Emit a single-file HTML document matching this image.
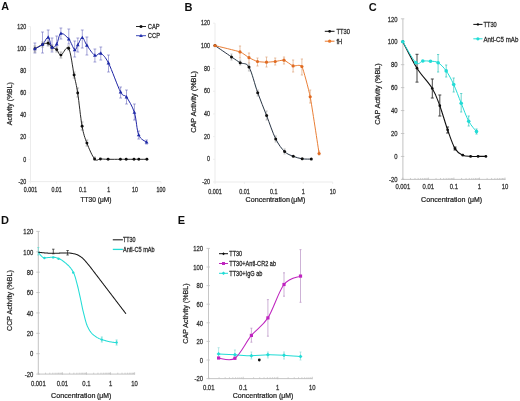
<!DOCTYPE html>
<html><head><meta charset="utf-8"><style>
html,body{margin:0;padding:0;background:#fff;width:520px;height:401px;overflow:hidden}
text{font-family:"Liberation Sans", sans-serif}
</style></head><body>
<svg width="520" height="401" viewBox="0 0 520 401" style="display:block">
<defs><filter id="bl" x="-5%" y="-5%" width="110%" height="110%"><feGaussianBlur stdDeviation="0.45"/></filter></defs>
<rect width="520" height="401" fill="#fff"/>
<g font-family='"Liberation Sans", sans-serif' filter='url(#bl)'>
<text x="5.1" y="6.3" font-size="10.8" fill="#111" text-anchor="middle" font-weight="bold" dominant-baseline="central">A</text>
<path d="M30.5,26.5 V181.62 H161" fill="none" stroke="#ececec" stroke-width="1.0"/>
<path d="M28.5,26.5 H30.5" stroke="#ececec" stroke-width="0.8"/>
<text x="26.2" y="26.5" font-size="5.3" fill="#333" text-anchor="end" font-weight="normal" dominant-baseline="central" stroke="#333" stroke-width="0.22" transform="translate(26.2 26.5) scale(1 1.22) translate(-26.2 -26.5)">120</text>
<path d="M28.5,48.660000000000004 H30.5" stroke="#ececec" stroke-width="0.8"/>
<text x="26.2" y="48.660000000000004" font-size="5.3" fill="#333" text-anchor="end" font-weight="normal" dominant-baseline="central" stroke="#333" stroke-width="0.22" transform="translate(26.2 48.660000000000004) scale(1 1.22) translate(-26.2 -48.660000000000004)">100</text>
<path d="M28.5,70.82000000000001 H30.5" stroke="#ececec" stroke-width="0.8"/>
<text x="26.2" y="70.82000000000001" font-size="5.3" fill="#333" text-anchor="end" font-weight="normal" dominant-baseline="central" stroke="#333" stroke-width="0.22" transform="translate(26.2 70.82000000000001) scale(1 1.22) translate(-26.2 -70.82000000000001)">80</text>
<path d="M28.5,92.98 H30.5" stroke="#ececec" stroke-width="0.8"/>
<text x="26.2" y="92.98" font-size="5.3" fill="#333" text-anchor="end" font-weight="normal" dominant-baseline="central" stroke="#333" stroke-width="0.22" transform="translate(26.2 92.98) scale(1 1.22) translate(-26.2 -92.98)">60</text>
<path d="M28.5,115.14000000000001 H30.5" stroke="#ececec" stroke-width="0.8"/>
<text x="26.2" y="115.14000000000001" font-size="5.3" fill="#333" text-anchor="end" font-weight="normal" dominant-baseline="central" stroke="#333" stroke-width="0.22" transform="translate(26.2 115.14000000000001) scale(1 1.22) translate(-26.2 -115.14000000000001)">40</text>
<path d="M28.5,137.3 H30.5" stroke="#ececec" stroke-width="0.8"/>
<text x="26.2" y="137.3" font-size="5.3" fill="#333" text-anchor="end" font-weight="normal" dominant-baseline="central" stroke="#333" stroke-width="0.22" transform="translate(26.2 137.3) scale(1 1.22) translate(-26.2 -137.3)">20</text>
<path d="M28.5,159.46 H30.5" stroke="#ececec" stroke-width="0.8"/>
<text x="26.2" y="159.46" font-size="5.3" fill="#333" text-anchor="end" font-weight="normal" dominant-baseline="central" stroke="#333" stroke-width="0.22" transform="translate(26.2 159.46) scale(1 1.22) translate(-26.2 -159.46)">0</text>
<path d="M28.5,181.62 H30.5" stroke="#ececec" stroke-width="0.8"/>
<text x="26.2" y="181.62" font-size="5.3" fill="#333" text-anchor="end" font-weight="normal" dominant-baseline="central" stroke="#333" stroke-width="0.22" transform="translate(26.2 181.62) scale(1 1.22) translate(-26.2 -181.62)">-20</text>
<path d="M30.5,181.62 V183.62" stroke="#ececec" stroke-width="0.8"/>
<text x="30.5" y="189.6" font-size="5.3" fill="#333" text-anchor="middle" font-weight="normal" dominant-baseline="central" stroke="#333" stroke-width="0.22" transform="translate(30.5 189.6) scale(1 1.22) translate(-30.5 -189.6)">0.001</text>
<path d="M56.6,181.62 V183.62" stroke="#ececec" stroke-width="0.8"/>
<text x="56.6" y="189.6" font-size="5.3" fill="#333" text-anchor="middle" font-weight="normal" dominant-baseline="central" stroke="#333" stroke-width="0.22" transform="translate(56.6 189.6) scale(1 1.22) translate(-56.6 -189.6)">0.01</text>
<path d="M82.7,181.62 V183.62" stroke="#ececec" stroke-width="0.8"/>
<text x="82.7" y="189.6" font-size="5.3" fill="#333" text-anchor="middle" font-weight="normal" dominant-baseline="central" stroke="#333" stroke-width="0.22" transform="translate(82.7 189.6) scale(1 1.22) translate(-82.7 -189.6)">0.1</text>
<path d="M108.80000000000001,181.62 V183.62" stroke="#ececec" stroke-width="0.8"/>
<text x="108.80000000000001" y="189.6" font-size="5.3" fill="#333" text-anchor="middle" font-weight="normal" dominant-baseline="central" stroke="#333" stroke-width="0.22" transform="translate(108.80000000000001 189.6) scale(1 1.22) translate(-108.80000000000001 -189.6)">1</text>
<path d="M134.9,181.62 V183.62" stroke="#ececec" stroke-width="0.8"/>
<text x="134.9" y="189.6" font-size="5.3" fill="#333" text-anchor="middle" font-weight="normal" dominant-baseline="central" stroke="#333" stroke-width="0.22" transform="translate(134.9 189.6) scale(1 1.22) translate(-134.9 -189.6)">10</text>
<path d="M161.0,181.62 V183.62" stroke="#ececec" stroke-width="0.8"/>
<text x="161.0" y="189.6" font-size="5.3" fill="#333" text-anchor="middle" font-weight="normal" dominant-baseline="central" stroke="#333" stroke-width="0.22" transform="translate(161.0 189.6) scale(1 1.22) translate(-161.0 -189.6)">100</text>
<text x="96" y="199.6" font-size="6.6" fill="#222" text-anchor="middle" font-weight="normal" dominant-baseline="central" stroke="#222" stroke-width="0.22">TT30 (μM)</text>
<text x="9.7" y="103.65" font-size="6.92" fill="#222" text-anchor="middle" font-weight="normal" dominant-baseline="central" stroke="#222" stroke-width="0.22" transform="rotate(-90 9.7 103.65)">Activity (%BL)</text>
<path d="M34.9,43 V53 M33.5,43 H36.3 M33.5,53 H36.3" stroke="#5c5cb8" stroke-width="0.55" fill="none"/>
<path d="M42.5,32 V53 M41.1,32 H43.9 M41.1,53 H43.9" stroke="#5c5cb8" stroke-width="0.55" fill="none"/>
<path d="M48.2,30 V45 M46.800000000000004,30 H49.6 M46.800000000000004,45 H49.6" stroke="#5c5cb8" stroke-width="0.55" fill="none"/>
<path d="M52.0,38 V52 M50.6,38 H53.4 M50.6,52 H53.4" stroke="#5c5cb8" stroke-width="0.55" fill="none"/>
<path d="M56.7,36 V50 M55.300000000000004,36 H58.1 M55.300000000000004,50 H58.1" stroke="#5c5cb8" stroke-width="0.55" fill="none"/>
<path d="M60.9,28 V39 M59.5,28 H62.3 M59.5,39 H62.3" stroke="#5c5cb8" stroke-width="0.55" fill="none"/>
<path d="M68.8,29 V44 M67.39999999999999,29 H70.2 M67.39999999999999,44 H70.2" stroke="#5c5cb8" stroke-width="0.55" fill="none"/>
<path d="M74.7,41 V57 M73.3,41 H76.10000000000001 M73.3,57 H76.10000000000001" stroke="#5c5cb8" stroke-width="0.55" fill="none"/>
<path d="M77.8,38 V52 M76.39999999999999,38 H79.2 M76.39999999999999,52 H79.2" stroke="#5c5cb8" stroke-width="0.55" fill="none"/>
<path d="M82.3,30 V48 M80.89999999999999,30 H83.7 M80.89999999999999,48 H83.7" stroke="#5c5cb8" stroke-width="0.55" fill="none"/>
<path d="M86.9,37 V55 M85.5,37 H88.30000000000001 M85.5,55 H88.30000000000001" stroke="#5c5cb8" stroke-width="0.55" fill="none"/>
<path d="M94.9,49 V62 M93.5,49 H96.30000000000001 M93.5,62 H96.30000000000001" stroke="#5c5cb8" stroke-width="0.55" fill="none"/>
<path d="M100.8,47 V60 M99.39999999999999,47 H102.2 M99.39999999999999,60 H102.2" stroke="#5c5cb8" stroke-width="0.55" fill="none"/>
<path d="M108.5,55 V72 M107.1,55 H109.9 M107.1,72 H109.9" stroke="#5c5cb8" stroke-width="0.55" fill="none"/>
<path d="M120.6,87 V98 M119.19999999999999,87 H122.0 M119.19999999999999,98 H122.0" stroke="#5c5cb8" stroke-width="0.55" fill="none"/>
<path d="M126.5,90 V104 M125.1,90 H127.9 M125.1,104 H127.9" stroke="#5c5cb8" stroke-width="0.55" fill="none"/>
<path d="M134.4,104 V120 M133.0,104 H135.8 M133.0,120 H135.8" stroke="#5c5cb8" stroke-width="0.55" fill="none"/>
<path d="M138.7,131 V139 M137.29999999999998,131 H140.1 M137.29999999999998,139 H140.1" stroke="#5c5cb8" stroke-width="0.55" fill="none"/>
<path d="M146.6,140 V144 M145.2,140 H148.0 M145.2,144 H148.0" stroke="#5c5cb8" stroke-width="0.55" fill="none"/>
<path d="M34.9,46 V52 M33.5,46 H36.3 M33.5,52 H36.3" stroke="#888" stroke-width="0.6" fill="none"/>
<path d="M42.5,42 V47 M41.1,42 H43.9 M41.1,47 H43.9" stroke="#888" stroke-width="0.6" fill="none"/>
<path d="M48.2,41 V46 M46.800000000000004,41 H49.6 M46.800000000000004,46 H49.6" stroke="#888" stroke-width="0.6" fill="none"/>
<path d="M52.0,45 V50 M50.6,45 H53.4 M50.6,50 H53.4" stroke="#888" stroke-width="0.6" fill="none"/>
<path d="M56.7,47 V52 M55.300000000000004,47 H58.1 M55.300000000000004,52 H58.1" stroke="#888" stroke-width="0.6" fill="none"/>
<path d="M60.9,52 V58 M59.5,52 H62.3 M59.5,58 H62.3" stroke="#888" stroke-width="0.6" fill="none"/>
<path d="M68.6,46 V50 M67.19999999999999,46 H70.0 M67.19999999999999,50 H70.0" stroke="#888" stroke-width="0.6" fill="none"/>
<path d="M74.1,72 V78 M72.69999999999999,72 H75.5 M72.69999999999999,78 H75.5" stroke="#888" stroke-width="0.6" fill="none"/>
<path d="M77.7,88 V97 M76.3,88 H79.10000000000001 M76.3,97 H79.10000000000001" stroke="#888" stroke-width="0.6" fill="none"/>
<path d="M82.1,122 V130 M80.69999999999999,122 H83.5 M80.69999999999999,130 H83.5" stroke="#888" stroke-width="0.6" fill="none"/>
<path d="M86.9,140 V146 M85.5,140 H88.30000000000001 M85.5,146 H88.30000000000001" stroke="#888" stroke-width="0.6" fill="none"/>
<path d="M94.6,157 V160 M93.19999999999999,157 H96.0 M93.19999999999999,160 H96.0" stroke="#888" stroke-width="0.6" fill="none"/>
<path d="M34.90,48.80 C36.17,48.08 40.28,45.42 42.50,44.50 C44.72,43.58 46.62,42.83 48.20,43.30 C49.78,43.77 50.58,46.25 52.00,47.30 C53.42,48.35 55.22,48.30 56.70,49.60 C58.18,50.90 58.92,55.32 60.90,55.10 C62.88,54.88 66.40,44.98 68.60,48.30 C70.80,51.62 72.58,67.55 74.10,75.00 C75.62,82.45 76.37,84.45 77.70,93.00 C79.03,101.55 80.57,117.95 82.10,126.30 C83.63,134.65 84.82,137.65 86.90,143.10 C88.98,148.55 92.35,156.35 94.60,159.00 C96.85,161.65 98.15,158.95 100.40,159.00 C102.65,159.05 104.77,159.25 108.10,159.30 C111.43,159.35 117.38,159.30 120.40,159.30 C123.42,159.30 123.93,159.30 126.20,159.30 C128.47,159.30 131.90,159.30 134.00,159.30 C136.10,159.30 136.65,159.30 138.80,159.30 C140.95,159.30 145.55,159.30 146.90,159.30" fill="none" stroke="#111" stroke-width="0.9"/>
<circle cx="34.9" cy="48.8" r="1.45" fill="#111"/>
<circle cx="42.5" cy="44.5" r="1.45" fill="#111"/>
<circle cx="48.2" cy="43.3" r="1.45" fill="#111"/>
<circle cx="52.0" cy="47.3" r="1.45" fill="#111"/>
<circle cx="56.7" cy="49.6" r="1.45" fill="#111"/>
<circle cx="60.9" cy="55.1" r="1.45" fill="#111"/>
<circle cx="68.6" cy="48.3" r="1.45" fill="#111"/>
<circle cx="74.1" cy="75" r="1.45" fill="#111"/>
<circle cx="77.7" cy="93" r="1.45" fill="#111"/>
<circle cx="82.1" cy="126.3" r="1.45" fill="#111"/>
<circle cx="86.9" cy="143.1" r="1.45" fill="#111"/>
<circle cx="94.6" cy="159.0" r="1.45" fill="#111"/>
<circle cx="100.4" cy="159.0" r="1.45" fill="#111"/>
<circle cx="108.1" cy="159.3" r="1.45" fill="#111"/>
<circle cx="120.4" cy="159.3" r="1.45" fill="#111"/>
<circle cx="126.2" cy="159.3" r="1.45" fill="#111"/>
<circle cx="134.0" cy="159.3" r="1.45" fill="#111"/>
<circle cx="138.8" cy="159.3" r="1.45" fill="#111"/>
<circle cx="146.9" cy="159.3" r="1.45" fill="#111"/>
<path d="M34.90,48.80 C36.17,48.08 40.28,46.42 42.50,44.50 C44.72,42.58 46.62,36.80 48.20,37.30 C49.78,37.80 50.58,46.37 52.00,47.50 C53.42,48.63 55.22,46.43 56.70,44.10 C58.18,41.77 58.88,34.33 60.90,33.50 C62.92,32.67 66.50,36.38 68.80,39.10 C71.10,41.82 73.20,48.82 74.70,49.80 C76.20,50.78 76.53,47.02 77.80,45.00 C79.07,42.98 80.78,37.63 82.30,37.70 C83.82,37.77 84.80,42.45 86.90,45.40 C89.00,48.35 92.58,54.07 94.90,55.40 C97.22,56.73 98.53,52.12 100.80,53.40 C103.07,54.68 105.20,56.65 108.50,63.10 C111.80,69.55 117.60,86.43 120.60,92.10 C123.60,97.77 124.20,93.70 126.50,97.10 C128.80,100.50 132.37,106.18 134.40,112.50 C136.43,118.82 136.67,130.05 138.70,135.00 C140.73,139.95 145.28,141.00 146.60,142.20" fill="none" stroke="#1e24a4" stroke-width="1.0"/>
<path d="M34.9,46.76 L36.769999999999996,50.16 L33.03,50.16 Z" fill="#1f2aa8"/>
<path d="M42.5,42.46 L44.37,45.86 L40.63,45.86 Z" fill="#1f2aa8"/>
<path d="M48.2,35.26 L50.07,38.66 L46.330000000000005,38.66 Z" fill="#1f2aa8"/>
<path d="M52.0,45.46 L53.87,48.86 L50.13,48.86 Z" fill="#1f2aa8"/>
<path d="M56.7,42.06 L58.57,45.46 L54.830000000000005,45.46 Z" fill="#1f2aa8"/>
<path d="M60.9,31.46 L62.769999999999996,34.86 L59.03,34.86 Z" fill="#1f2aa8"/>
<path d="M68.8,37.06 L70.67,40.46 L66.92999999999999,40.46 Z" fill="#1f2aa8"/>
<path d="M74.7,47.76 L76.57000000000001,51.16 L72.83,51.16 Z" fill="#1f2aa8"/>
<path d="M77.8,42.96 L79.67,46.36 L75.92999999999999,46.36 Z" fill="#1f2aa8"/>
<path d="M82.3,35.660000000000004 L84.17,39.06 L80.42999999999999,39.06 Z" fill="#1f2aa8"/>
<path d="M86.9,43.36 L88.77000000000001,46.76 L85.03,46.76 Z" fill="#1f2aa8"/>
<path d="M94.9,53.36 L96.77000000000001,56.76 L93.03,56.76 Z" fill="#1f2aa8"/>
<path d="M100.8,51.36 L102.67,54.76 L98.92999999999999,54.76 Z" fill="#1f2aa8"/>
<path d="M108.5,61.06 L110.37,64.46000000000001 L106.63,64.46000000000001 Z" fill="#1f2aa8"/>
<path d="M120.6,90.05999999999999 L122.47,93.46 L118.72999999999999,93.46 Z" fill="#1f2aa8"/>
<path d="M126.5,95.05999999999999 L128.37,98.46 L124.63,98.46 Z" fill="#1f2aa8"/>
<path d="M134.4,110.46 L136.27,113.86 L132.53,113.86 Z" fill="#1f2aa8"/>
<path d="M138.7,132.96 L140.57,136.36 L136.82999999999998,136.36 Z" fill="#1f2aa8"/>
<path d="M146.6,140.16 L148.47,143.56 L144.73,143.56 Z" fill="#1f2aa8"/>
<path d="M136,26.5 H146" stroke="#111" stroke-width="0.9"/>
<circle cx="141.0" cy="26.5" r="1.5" fill="#111"/>
<text x="147.8" y="26.5" font-size="5.8" fill="#2a2a2a" text-anchor="start" font-weight="normal" dominant-baseline="central" stroke="#2a2a2a" stroke-width="0.22" transform="translate(147.8 26.5) scale(1 1.2) translate(-147.8 -26.5)">CAP</text>
<path d="M136,35.7 H146" stroke="#2a35b0" stroke-width="0.9"/>
<path d="M141.0,33.660000000000004 L142.87,37.06 L139.13,37.06 Z" fill="#2a35b0"/>
<text x="147.8" y="35.7" font-size="5.8" fill="#2a2a2a" text-anchor="start" font-weight="normal" dominant-baseline="central" stroke="#2a2a2a" stroke-width="0.22" transform="translate(147.8 35.7) scale(1 1.2) translate(-147.8 -35.7)">CCP</text>
<text x="188.5" y="7" font-size="11" fill="#111" text-anchor="middle" font-weight="bold" dominant-baseline="central">B</text>
<path d="M215,23.2 V182.002 H332.7" fill="none" stroke="#ebebeb" stroke-width="1.0"/>
<path d="M213,23.2 H215" stroke="#ebebeb" stroke-width="0.8"/>
<text x="210" y="23.2" font-size="5.4" fill="#333" text-anchor="end" font-weight="normal" dominant-baseline="central" stroke="#333" stroke-width="0.22" transform="translate(210 23.2) scale(1 1.22) translate(-210 -23.2)">120</text>
<path d="M213,45.885999999999996 H215" stroke="#ebebeb" stroke-width="0.8"/>
<text x="210" y="45.885999999999996" font-size="5.4" fill="#333" text-anchor="end" font-weight="normal" dominant-baseline="central" stroke="#333" stroke-width="0.22" transform="translate(210 45.885999999999996) scale(1 1.22) translate(-210 -45.885999999999996)">100</text>
<path d="M213,68.572 H215" stroke="#ebebeb" stroke-width="0.8"/>
<text x="210" y="68.572" font-size="5.4" fill="#333" text-anchor="end" font-weight="normal" dominant-baseline="central" stroke="#333" stroke-width="0.22" transform="translate(210 68.572) scale(1 1.22) translate(-210 -68.572)">80</text>
<path d="M213,91.25800000000001 H215" stroke="#ebebeb" stroke-width="0.8"/>
<text x="210" y="91.25800000000001" font-size="5.4" fill="#333" text-anchor="end" font-weight="normal" dominant-baseline="central" stroke="#333" stroke-width="0.22" transform="translate(210 91.25800000000001) scale(1 1.22) translate(-210 -91.25800000000001)">60</text>
<path d="M213,113.944 H215" stroke="#ebebeb" stroke-width="0.8"/>
<text x="210" y="113.944" font-size="5.4" fill="#333" text-anchor="end" font-weight="normal" dominant-baseline="central" stroke="#333" stroke-width="0.22" transform="translate(210 113.944) scale(1 1.22) translate(-210 -113.944)">40</text>
<path d="M213,136.63 H215" stroke="#ebebeb" stroke-width="0.8"/>
<text x="210" y="136.63" font-size="5.4" fill="#333" text-anchor="end" font-weight="normal" dominant-baseline="central" stroke="#333" stroke-width="0.22" transform="translate(210 136.63) scale(1 1.22) translate(-210 -136.63)">20</text>
<path d="M213,159.316 H215" stroke="#ebebeb" stroke-width="0.8"/>
<text x="210" y="159.316" font-size="5.4" fill="#333" text-anchor="end" font-weight="normal" dominant-baseline="central" stroke="#333" stroke-width="0.22" transform="translate(210 159.316) scale(1 1.22) translate(-210 -159.316)">0</text>
<path d="M213,182.002 H215" stroke="#ebebeb" stroke-width="0.8"/>
<text x="210" y="182.002" font-size="5.4" fill="#333" text-anchor="end" font-weight="normal" dominant-baseline="central" stroke="#333" stroke-width="0.22" transform="translate(210 182.002) scale(1 1.22) translate(-210 -182.002)">-20</text>
<path d="M215.0,182.002 V184.002" stroke="#ebebeb" stroke-width="0.8"/>
<text x="215.0" y="191.4" font-size="5.4" fill="#333" text-anchor="middle" font-weight="normal" dominant-baseline="central" stroke="#333" stroke-width="0.22" transform="translate(215.0 191.4) scale(1 1.22) translate(-215.0 -191.4)">0.001</text>
<path d="M244.42000000000002,182.002 V184.002" stroke="#ebebeb" stroke-width="0.8"/>
<text x="244.42000000000002" y="191.4" font-size="5.4" fill="#333" text-anchor="middle" font-weight="normal" dominant-baseline="central" stroke="#333" stroke-width="0.22" transform="translate(244.42000000000002 191.4) scale(1 1.22) translate(-244.42000000000002 -191.4)">0.01</text>
<path d="M273.84000000000003,182.002 V184.002" stroke="#ebebeb" stroke-width="0.8"/>
<text x="273.84000000000003" y="191.4" font-size="5.4" fill="#333" text-anchor="middle" font-weight="normal" dominant-baseline="central" stroke="#333" stroke-width="0.22" transform="translate(273.84000000000003 191.4) scale(1 1.22) translate(-273.84000000000003 -191.4)">0.1</text>
<path d="M303.26,182.002 V184.002" stroke="#ebebeb" stroke-width="0.8"/>
<text x="303.26" y="191.4" font-size="5.4" fill="#333" text-anchor="middle" font-weight="normal" dominant-baseline="central" stroke="#333" stroke-width="0.22" transform="translate(303.26 191.4) scale(1 1.22) translate(-303.26 -191.4)">1</text>
<path d="M332.68,182.002 V184.002" stroke="#ebebeb" stroke-width="0.8"/>
<text x="332.68" y="191.4" font-size="5.4" fill="#333" text-anchor="middle" font-weight="normal" dominant-baseline="central" stroke="#333" stroke-width="0.22" transform="translate(332.68 191.4) scale(1 1.22) translate(-332.68 -191.4)">10</text>
<text x="245.6" y="199.6" font-size="7.12" fill="#222" text-anchor="start" font-weight="normal" dominant-baseline="central" stroke="#222" stroke-width="0.22">Concentration</text>
<text x="305.3" y="199.6" font-size="6.9" fill="#222" text-anchor="end" font-weight="normal" dominant-baseline="central" stroke="#222" stroke-width="0.22">(μM)</text>
<text x="193.75" y="101.9" font-size="7.28" fill="#222" text-anchor="middle" font-weight="normal" dominant-baseline="central" stroke="#222" stroke-width="0.22" transform="rotate(-90 193.75 101.9)">CAP Activity (%BL)</text>
<path d="M240,46 V58 M238.9,46 H241.1 M238.9,58 H241.1" stroke="#e0a880" stroke-width="0.7" fill="none"/>
<path d="M249,53 V63 M247.9,53 H250.1 M247.9,63 H250.1" stroke="#e0a880" stroke-width="0.7" fill="none"/>
<path d="M257.5,58 V66 M256.4,58 H258.6 M256.4,66 H258.6" stroke="#e0a880" stroke-width="0.7" fill="none"/>
<path d="M266.5,57 V67 M265.4,57 H267.6 M265.4,67 H267.6" stroke="#e0a880" stroke-width="0.7" fill="none"/>
<path d="M275.2,58 V65 M274.09999999999997,58 H276.3 M274.09999999999997,65 H276.3" stroke="#e0a880" stroke-width="0.7" fill="none"/>
<path d="M284,57 V64 M282.9,57 H285.1 M282.9,64 H285.1" stroke="#e0a880" stroke-width="0.7" fill="none"/>
<path d="M293.1,60 V72 M292.0,60 H294.20000000000005 M292.0,72 H294.20000000000005" stroke="#e0a880" stroke-width="0.7" fill="none"/>
<path d="M301.9,59 V75 M300.79999999999995,59 H303.0 M300.79999999999995,75 H303.0" stroke="#e0a880" stroke-width="0.7" fill="none"/>
<path d="M310.2,90 V103 M309.09999999999997,90 H311.3 M309.09999999999997,103 H311.3" stroke="#e0a880" stroke-width="0.7" fill="none"/>
<path d="M319.1,151 V155 M318.0,151 H320.20000000000005 M318.0,155 H320.20000000000005" stroke="#e0a880" stroke-width="0.7" fill="none"/>
<path d="M231.5,54 V60 M230.4,54 H232.6 M230.4,60 H232.6" stroke="#a0a0a0" stroke-width="0.6" fill="none"/>
<path d="M240.2,60 V65 M239.1,60 H241.29999999999998 M239.1,65 H241.29999999999998" stroke="#a0a0a0" stroke-width="0.6" fill="none"/>
<path d="M249,64 V71 M247.9,64 H250.1 M247.9,71 H250.1" stroke="#a0a0a0" stroke-width="0.6" fill="none"/>
<path d="M257.7,90 V96 M256.59999999999997,90 H258.8 M256.59999999999997,96 H258.8" stroke="#a0a0a0" stroke-width="0.6" fill="none"/>
<path d="M266.6,111 V120 M265.5,111 H267.70000000000005 M265.5,120 H267.70000000000005" stroke="#a0a0a0" stroke-width="0.6" fill="none"/>
<path d="M275.7,136 V142 M274.59999999999997,136 H276.8 M274.59999999999997,142 H276.8" stroke="#a0a0a0" stroke-width="0.6" fill="none"/>
<path d="M284.6,149 V154 M283.5,149 H285.70000000000005 M283.5,154 H285.70000000000005" stroke="#a0a0a0" stroke-width="0.6" fill="none"/>
<path d="M215.00,45.60 C217.75,47.48 227.30,54.05 231.50,56.90 C235.70,59.75 237.28,61.00 240.20,62.70 C243.12,64.40 246.08,62.10 249.00,67.10 C251.92,72.10 254.77,84.62 257.70,92.70 C260.63,100.78 263.60,107.90 266.60,115.60 C269.60,123.30 272.70,132.90 275.70,138.90 C278.70,144.90 281.67,148.70 284.60,151.60 C287.53,154.50 290.37,155.10 293.30,156.30 C296.23,157.50 299.20,158.33 302.20,158.80 C305.20,159.27 309.78,159.05 311.30,159.10" fill="none" stroke="#1e2a3a" stroke-width="0.95"/>
<circle cx="215" cy="45.6" r="1.5" fill="#111"/>
<circle cx="231.5" cy="56.9" r="1.5" fill="#111"/>
<circle cx="240.2" cy="62.7" r="1.5" fill="#111"/>
<circle cx="249" cy="67.1" r="1.5" fill="#111"/>
<circle cx="257.7" cy="92.7" r="1.5" fill="#111"/>
<circle cx="266.6" cy="115.6" r="1.5" fill="#111"/>
<circle cx="275.7" cy="138.9" r="1.5" fill="#111"/>
<circle cx="284.6" cy="151.6" r="1.5" fill="#111"/>
<circle cx="293.3" cy="156.3" r="1.5" fill="#111"/>
<circle cx="302.2" cy="158.8" r="1.5" fill="#111"/>
<circle cx="311.3" cy="159.1" r="1.5" fill="#111"/>
<path d="M215.00,45.60 C217.00,46.10 237.28,50.93 240.00,51.90 C242.72,52.87 247.60,56.93 249.00,57.70 C250.40,58.47 256.10,61.14 257.50,61.50 C258.90,61.86 265.08,62.20 266.50,62.20 C267.92,62.20 273.80,61.66 275.20,61.50 C276.60,61.34 282.57,59.85 284.00,60.20 C285.43,60.55 291.67,65.40 293.10,65.90 C294.53,66.40 300.53,64.03 301.90,66.50 C303.27,68.97 308.82,89.84 310.20,96.80 C311.58,103.76 318.39,148.96 319.10,153.50" fill="none" stroke="#e8782c" stroke-width="0.95"/>
<circle cx="215" cy="45.6" r="1.6" fill="#e06a20"/>
<circle cx="240" cy="51.9" r="1.6" fill="#e06a20"/>
<circle cx="249" cy="57.7" r="1.6" fill="#e06a20"/>
<circle cx="257.5" cy="61.5" r="1.6" fill="#e06a20"/>
<circle cx="266.5" cy="62.2" r="1.6" fill="#e06a20"/>
<circle cx="275.2" cy="61.5" r="1.6" fill="#e06a20"/>
<circle cx="284" cy="60.2" r="1.6" fill="#e06a20"/>
<circle cx="293.1" cy="65.9" r="1.6" fill="#e06a20"/>
<circle cx="301.9" cy="66.5" r="1.6" fill="#e06a20"/>
<circle cx="310.2" cy="96.8" r="1.6" fill="#e06a20"/>
<circle cx="319.1" cy="153.5" r="1.6" fill="#e06a20"/>
<path d="M324.8,31.3 H334.5" stroke="#111" stroke-width="1.0"/>
<circle cx="329.65" cy="31.3" r="1.4" fill="#111"/>
<text x="336.5" y="31.3" font-size="5.8" fill="#2a2a2a" text-anchor="start" font-weight="normal" dominant-baseline="central" stroke="#2a2a2a" stroke-width="0.22" transform="translate(336.5 31.3) scale(1 1.2) translate(-336.5 -31.3)">TT30</text>
<path d="M324.8,41.2 H334.5" stroke="#e8782c" stroke-width="1.0"/>
<circle cx="329.65" cy="41.2" r="1.6" fill="#e8782c"/>
<text x="336.5" y="41.2" font-size="5.8" fill="#2a2a2a" text-anchor="start" font-weight="normal" dominant-baseline="central" stroke="#2a2a2a" stroke-width="0.22" transform="translate(336.5 41.2) scale(1 1.2) translate(-336.5 -41.2)">fH</text>
<text x="372.7" y="7" font-size="11" fill="#111" text-anchor="middle" font-weight="bold" dominant-baseline="central">C</text>
<path d="M402.9,18.8 V179.38000000000002 H505.4" fill="none" stroke="#bcbcbc" stroke-width="0.9"/>
<path d="M400.9,18.8 H404.29999999999995" stroke="#bcbcbc" stroke-width="0.8"/>
<text x="397.6" y="18.8" font-size="5.9" fill="#333" text-anchor="end" font-weight="normal" dominant-baseline="central" stroke="#333" stroke-width="0.22" transform="translate(397.6 18.8) scale(1 1.22) translate(-397.6 -18.8)">120</text>
<path d="M400.9,41.74 H404.29999999999995" stroke="#bcbcbc" stroke-width="0.8"/>
<text x="397.6" y="41.74" font-size="5.9" fill="#333" text-anchor="end" font-weight="normal" dominant-baseline="central" stroke="#333" stroke-width="0.22" transform="translate(397.6 41.74) scale(1 1.22) translate(-397.6 -41.74)">100</text>
<path d="M400.9,64.68 H404.29999999999995" stroke="#bcbcbc" stroke-width="0.8"/>
<text x="397.6" y="64.68" font-size="5.9" fill="#333" text-anchor="end" font-weight="normal" dominant-baseline="central" stroke="#333" stroke-width="0.22" transform="translate(397.6 64.68) scale(1 1.22) translate(-397.6 -64.68)">80</text>
<path d="M400.9,87.62 H404.29999999999995" stroke="#bcbcbc" stroke-width="0.8"/>
<text x="397.6" y="87.62" font-size="5.9" fill="#333" text-anchor="end" font-weight="normal" dominant-baseline="central" stroke="#333" stroke-width="0.22" transform="translate(397.6 87.62) scale(1 1.22) translate(-397.6 -87.62)">60</text>
<path d="M400.9,110.56 H404.29999999999995" stroke="#bcbcbc" stroke-width="0.8"/>
<text x="397.6" y="110.56" font-size="5.9" fill="#333" text-anchor="end" font-weight="normal" dominant-baseline="central" stroke="#333" stroke-width="0.22" transform="translate(397.6 110.56) scale(1 1.22) translate(-397.6 -110.56)">40</text>
<path d="M400.9,133.5 H404.29999999999995" stroke="#bcbcbc" stroke-width="0.8"/>
<text x="397.6" y="133.5" font-size="5.9" fill="#333" text-anchor="end" font-weight="normal" dominant-baseline="central" stroke="#333" stroke-width="0.22" transform="translate(397.6 133.5) scale(1 1.22) translate(-397.6 -133.5)">20</text>
<path d="M400.9,156.44000000000003 H404.29999999999995" stroke="#bcbcbc" stroke-width="0.8"/>
<text x="397.6" y="156.44000000000003" font-size="5.9" fill="#333" text-anchor="end" font-weight="normal" dominant-baseline="central" stroke="#333" stroke-width="0.22" transform="translate(397.6 156.44000000000003) scale(1 1.22) translate(-397.6 -156.44000000000003)">0</text>
<path d="M400.9,179.38000000000002 H404.29999999999995" stroke="#bcbcbc" stroke-width="0.8"/>
<text x="397.6" y="179.38000000000002" font-size="5.9" fill="#333" text-anchor="end" font-weight="normal" dominant-baseline="central" stroke="#333" stroke-width="0.22" transform="translate(397.6 179.38000000000002) scale(1 1.22) translate(-397.6 -179.38000000000002)">-20</text>
<path d="M402.8,177.58 V179.98000000000002" stroke="#bcbcbc" stroke-width="0.8"/>
<text x="402.8" y="186.4" font-size="5.9" fill="#333" text-anchor="middle" font-weight="normal" dominant-baseline="central" stroke="#333" stroke-width="0.22" transform="translate(402.8 186.4) scale(1 1.22) translate(-402.8 -186.4)">0.001</text>
<path d="M410.49,177.98000000000002 V179.38000000000002" stroke="#bcbcbc" stroke-width="0.7"/>
<path d="M414.99,177.98000000000002 V179.38000000000002" stroke="#bcbcbc" stroke-width="0.7"/>
<path d="M418.18,177.98000000000002 V179.38000000000002" stroke="#bcbcbc" stroke-width="0.7"/>
<path d="M420.66,177.98000000000002 V179.38000000000002" stroke="#bcbcbc" stroke-width="0.7"/>
<path d="M422.68,177.98000000000002 V179.38000000000002" stroke="#bcbcbc" stroke-width="0.7"/>
<path d="M424.39,177.98000000000002 V179.38000000000002" stroke="#bcbcbc" stroke-width="0.7"/>
<path d="M425.87,177.98000000000002 V179.38000000000002" stroke="#bcbcbc" stroke-width="0.7"/>
<path d="M427.18,177.98000000000002 V179.38000000000002" stroke="#bcbcbc" stroke-width="0.7"/>
<path d="M428.35,177.58 V179.98000000000002" stroke="#bcbcbc" stroke-width="0.8"/>
<text x="428.35" y="186.4" font-size="5.9" fill="#333" text-anchor="middle" font-weight="normal" dominant-baseline="central" stroke="#333" stroke-width="0.22" transform="translate(428.35 186.4) scale(1 1.22) translate(-428.35 -186.4)">0.01</text>
<path d="M436.04,177.98000000000002 V179.38000000000002" stroke="#bcbcbc" stroke-width="0.7"/>
<path d="M440.54,177.98000000000002 V179.38000000000002" stroke="#bcbcbc" stroke-width="0.7"/>
<path d="M443.73,177.98000000000002 V179.38000000000002" stroke="#bcbcbc" stroke-width="0.7"/>
<path d="M446.21,177.98000000000002 V179.38000000000002" stroke="#bcbcbc" stroke-width="0.7"/>
<path d="M448.23,177.98000000000002 V179.38000000000002" stroke="#bcbcbc" stroke-width="0.7"/>
<path d="M449.94,177.98000000000002 V179.38000000000002" stroke="#bcbcbc" stroke-width="0.7"/>
<path d="M451.42,177.98000000000002 V179.38000000000002" stroke="#bcbcbc" stroke-width="0.7"/>
<path d="M452.73,177.98000000000002 V179.38000000000002" stroke="#bcbcbc" stroke-width="0.7"/>
<path d="M453.90000000000003,177.58 V179.98000000000002" stroke="#bcbcbc" stroke-width="0.8"/>
<text x="453.90000000000003" y="186.4" font-size="5.9" fill="#333" text-anchor="middle" font-weight="normal" dominant-baseline="central" stroke="#333" stroke-width="0.22" transform="translate(453.90000000000003 186.4) scale(1 1.22) translate(-453.90000000000003 -186.4)">0.1</text>
<path d="M461.59,177.98000000000002 V179.38000000000002" stroke="#bcbcbc" stroke-width="0.7"/>
<path d="M466.09,177.98000000000002 V179.38000000000002" stroke="#bcbcbc" stroke-width="0.7"/>
<path d="M469.28,177.98000000000002 V179.38000000000002" stroke="#bcbcbc" stroke-width="0.7"/>
<path d="M471.76,177.98000000000002 V179.38000000000002" stroke="#bcbcbc" stroke-width="0.7"/>
<path d="M473.78,177.98000000000002 V179.38000000000002" stroke="#bcbcbc" stroke-width="0.7"/>
<path d="M475.49,177.98000000000002 V179.38000000000002" stroke="#bcbcbc" stroke-width="0.7"/>
<path d="M476.97,177.98000000000002 V179.38000000000002" stroke="#bcbcbc" stroke-width="0.7"/>
<path d="M478.28,177.98000000000002 V179.38000000000002" stroke="#bcbcbc" stroke-width="0.7"/>
<path d="M479.45000000000005,177.58 V179.98000000000002" stroke="#bcbcbc" stroke-width="0.8"/>
<text x="479.45000000000005" y="186.4" font-size="5.9" fill="#333" text-anchor="middle" font-weight="normal" dominant-baseline="central" stroke="#333" stroke-width="0.22" transform="translate(479.45000000000005 186.4) scale(1 1.22) translate(-479.45000000000005 -186.4)">1</text>
<path d="M487.14,177.98000000000002 V179.38000000000002" stroke="#bcbcbc" stroke-width="0.7"/>
<path d="M491.64,177.98000000000002 V179.38000000000002" stroke="#bcbcbc" stroke-width="0.7"/>
<path d="M494.83,177.98000000000002 V179.38000000000002" stroke="#bcbcbc" stroke-width="0.7"/>
<path d="M497.31,177.98000000000002 V179.38000000000002" stroke="#bcbcbc" stroke-width="0.7"/>
<path d="M499.33,177.98000000000002 V179.38000000000002" stroke="#bcbcbc" stroke-width="0.7"/>
<path d="M501.04,177.98000000000002 V179.38000000000002" stroke="#bcbcbc" stroke-width="0.7"/>
<path d="M502.52,177.98000000000002 V179.38000000000002" stroke="#bcbcbc" stroke-width="0.7"/>
<path d="M503.83,177.98000000000002 V179.38000000000002" stroke="#bcbcbc" stroke-width="0.7"/>
<path d="M505.0,177.58 V179.98000000000002" stroke="#bcbcbc" stroke-width="0.8"/>
<text x="505.0" y="186.4" font-size="5.9" fill="#333" text-anchor="middle" font-weight="normal" dominant-baseline="central" stroke="#333" stroke-width="0.22" transform="translate(505.0 186.4) scale(1 1.22) translate(-505.0 -186.4)">10</text>
<text x="421.1" y="199.6" font-size="7.12" fill="#222" text-anchor="start" font-weight="normal" dominant-baseline="central" stroke="#222" stroke-width="0.22">Concentration</text>
<text x="482" y="199.6" font-size="6.9" fill="#222" text-anchor="end" font-weight="normal" dominant-baseline="central" stroke="#222" stroke-width="0.22">(μM)</text>
<text x="377.25" y="94" font-size="7.22" fill="#222" text-anchor="middle" font-weight="normal" dominant-baseline="central" stroke="#222" stroke-width="0.22" transform="rotate(-90 377.25 94)">CAP Activity (%BL)</text>
<path d="M417,54.3 V82.1 M415.5,54.3 H418.5 M415.5,82.1 H418.5" stroke="#444" stroke-width="1.0" fill="none"/>
<path d="M432.3,79 V98 M430.8,79 H433.8 M430.8,98 H433.8" stroke="#444" stroke-width="1.0" fill="none"/>
<path d="M439.8,95 V116 M438.3,95 H441.3 M438.3,116 H441.3" stroke="#444" stroke-width="1.0" fill="none"/>
<path d="M447.6,127 V133 M446.1,127 H449.1 M446.1,133 H449.1" stroke="#444" stroke-width="1.0" fill="none"/>
<path d="M455,147 V150 M453.5,147 H456.5 M453.5,150 H456.5" stroke="#444" stroke-width="1.0" fill="none"/>
<path d="M402.80,41.70 C405.17,46.12 412.08,60.40 417.00,68.20 C421.92,76.00 428.50,82.25 432.30,88.50 C436.10,94.75 437.25,98.82 439.80,105.70 C442.35,112.58 445.07,122.65 447.60,129.80 C450.13,136.95 452.47,144.37 455.00,148.60 C457.53,152.83 460.20,153.90 462.80,155.20 C465.40,156.50 468.05,156.20 470.60,156.40 C473.15,156.60 475.55,156.40 478.10,156.40 C480.65,156.40 484.60,156.40 485.90,156.40" fill="none" stroke="#111" stroke-width="1.1"/>
<circle cx="402.8" cy="41.7" r="1.35" fill="#111"/>
<circle cx="417" cy="68.2" r="1.35" fill="#111"/>
<circle cx="432.3" cy="88.5" r="1.35" fill="#111"/>
<circle cx="439.8" cy="105.7" r="1.35" fill="#111"/>
<circle cx="447.6" cy="129.8" r="1.35" fill="#111"/>
<circle cx="455" cy="148.6" r="1.35" fill="#111"/>
<circle cx="462.8" cy="155.2" r="1.35" fill="#111"/>
<circle cx="470.6" cy="156.4" r="1.35" fill="#111"/>
<circle cx="478.1" cy="156.4" r="1.35" fill="#111"/>
<circle cx="485.9" cy="156.4" r="1.35" fill="#111"/>
<path d="M438.1,54.5 V72 M437.0,54.5 H439.20000000000005 M437.0,72 H439.20000000000005" stroke="#48ccc4" stroke-width="0.8" fill="none"/>
<path d="M446.2,65 V77 M445.09999999999997,65 H447.3 M445.09999999999997,77 H447.3" stroke="#48ccc4" stroke-width="0.8" fill="none"/>
<path d="M453.7,78 V92 M452.59999999999997,78 H454.8 M452.59999999999997,92 H454.8" stroke="#48ccc4" stroke-width="0.8" fill="none"/>
<path d="M461.2,93.5 V112 M460.09999999999997,93.5 H462.3 M460.09999999999997,112 H462.3" stroke="#48ccc4" stroke-width="0.8" fill="none"/>
<path d="M468.7,116 V126 M467.59999999999997,116 H469.8 M467.59999999999997,126 H469.8" stroke="#48ccc4" stroke-width="0.8" fill="none"/>
<path d="M476.5,129 V134 M475.4,129 H477.6 M475.4,134 H477.6" stroke="#48ccc4" stroke-width="0.8" fill="none"/>
<path d="M402.80,41.70 C404.97,45.18 412.47,59.38 415.80,62.60 C419.13,65.82 420.35,61.23 422.80,61.00 C425.25,60.77 427.95,60.92 430.50,61.20 C433.05,61.48 435.48,61.08 438.10,62.70 C440.72,64.32 443.60,67.27 446.20,70.90 C448.80,74.53 451.20,79.12 453.70,84.50 C456.20,89.88 458.70,97.08 461.20,103.20 C463.70,109.32 466.15,116.47 468.70,121.20 C471.25,125.93 475.20,129.87 476.50,131.60" fill="none" stroke="#22dcd6" stroke-width="1.0"/>
<circle cx="402.8" cy="41.7" r="1.8" fill="#22dcd6"/>
<circle cx="415.8" cy="62.6" r="1.8" fill="#22dcd6"/>
<circle cx="422.8" cy="61.0" r="1.8" fill="#22dcd6"/>
<circle cx="430.5" cy="61.2" r="1.8" fill="#22dcd6"/>
<circle cx="438.1" cy="62.7" r="1.8" fill="#22dcd6"/>
<circle cx="446.2" cy="70.9" r="1.8" fill="#22dcd6"/>
<circle cx="453.7" cy="84.5" r="1.8" fill="#22dcd6"/>
<circle cx="461.2" cy="103.2" r="1.8" fill="#22dcd6"/>
<circle cx="468.7" cy="121.2" r="1.8" fill="#22dcd6"/>
<circle cx="476.5" cy="131.6" r="1.8" fill="#22dcd6"/>
<path d="M473.3,24.4 H482.5" stroke="#111" stroke-width="1.0"/>
<circle cx="477.9" cy="24.4" r="1.2" fill="#111"/>
<text x="483.5" y="24.4" font-size="5.7" fill="#2a2a2a" text-anchor="start" font-weight="normal" dominant-baseline="central" stroke="#2a2a2a" stroke-width="0.22" transform="translate(483.5 24.4) scale(1 1.2) translate(-483.5 -24.4)">TT30</text>
<path d="M473.3,38.8 H482.5" stroke="#22dcd6" stroke-width="1.0"/>
<circle cx="477.9" cy="38.8" r="1.6" fill="#22dcd6"/>
<text x="483.5" y="38.8" font-size="6.15" fill="#2a2a2a" text-anchor="start" font-weight="normal" dominant-baseline="central" stroke="#2a2a2a" stroke-width="0.22" transform="translate(483.5 38.8) scale(1 1.2) translate(-483.5 -38.8)">Anti-C5 mAb</text>
<text x="5" y="220" font-size="11" fill="#111" text-anchor="middle" font-weight="bold" dominant-baseline="central">D</text>
<path d="M38.3,231.39599999999996 V374.084 H134.6" fill="none" stroke="#bcbcbc" stroke-width="0.9"/>
<path d="M36.3,231.39599999999996 H39.699999999999996" stroke="#bcbcbc" stroke-width="0.8"/>
<text x="33.2" y="231.39599999999996" font-size="5.9" fill="#333" text-anchor="end" font-weight="normal" dominant-baseline="central" stroke="#333" stroke-width="0.22" transform="translate(33.2 231.39599999999996) scale(1 1.22) translate(-33.2 -231.39599999999996)">120</text>
<path d="M36.3,251.77999999999997 H39.699999999999996" stroke="#bcbcbc" stroke-width="0.8"/>
<text x="33.2" y="251.77999999999997" font-size="5.9" fill="#333" text-anchor="end" font-weight="normal" dominant-baseline="central" stroke="#333" stroke-width="0.22" transform="translate(33.2 251.77999999999997) scale(1 1.22) translate(-33.2 -251.77999999999997)">100</text>
<path d="M36.3,272.164 H39.699999999999996" stroke="#bcbcbc" stroke-width="0.8"/>
<text x="33.2" y="272.164" font-size="5.9" fill="#333" text-anchor="end" font-weight="normal" dominant-baseline="central" stroke="#333" stroke-width="0.22" transform="translate(33.2 272.164) scale(1 1.22) translate(-33.2 -272.164)">80</text>
<path d="M36.3,292.548 H39.699999999999996" stroke="#bcbcbc" stroke-width="0.8"/>
<text x="33.2" y="292.548" font-size="5.9" fill="#333" text-anchor="end" font-weight="normal" dominant-baseline="central" stroke="#333" stroke-width="0.22" transform="translate(33.2 292.548) scale(1 1.22) translate(-33.2 -292.548)">60</text>
<path d="M36.3,312.932 H39.699999999999996" stroke="#bcbcbc" stroke-width="0.8"/>
<text x="33.2" y="312.932" font-size="5.9" fill="#333" text-anchor="end" font-weight="normal" dominant-baseline="central" stroke="#333" stroke-width="0.22" transform="translate(33.2 312.932) scale(1 1.22) translate(-33.2 -312.932)">40</text>
<path d="M36.3,333.316 H39.699999999999996" stroke="#bcbcbc" stroke-width="0.8"/>
<text x="33.2" y="333.316" font-size="5.9" fill="#333" text-anchor="end" font-weight="normal" dominant-baseline="central" stroke="#333" stroke-width="0.22" transform="translate(33.2 333.316) scale(1 1.22) translate(-33.2 -333.316)">20</text>
<path d="M36.3,353.7 H39.699999999999996" stroke="#bcbcbc" stroke-width="0.8"/>
<text x="33.2" y="353.7" font-size="5.9" fill="#333" text-anchor="end" font-weight="normal" dominant-baseline="central" stroke="#333" stroke-width="0.22" transform="translate(33.2 353.7) scale(1 1.22) translate(-33.2 -353.7)">0</text>
<path d="M36.3,374.084 H39.699999999999996" stroke="#bcbcbc" stroke-width="0.8"/>
<text x="33.2" y="374.084" font-size="5.9" fill="#333" text-anchor="end" font-weight="normal" dominant-baseline="central" stroke="#333" stroke-width="0.22" transform="translate(33.2 374.084) scale(1 1.22) translate(-33.2 -374.084)">-20</text>
<path d="M38.3,372.284 V374.684" stroke="#bcbcbc" stroke-width="0.8"/>
<text x="38.3" y="382.9" font-size="5.9" fill="#333" text-anchor="middle" font-weight="normal" dominant-baseline="central" stroke="#333" stroke-width="0.22" transform="translate(38.3 382.9) scale(1 1.22) translate(-38.3 -382.9)">0.001</text>
<path d="M45.55,372.684 V374.084" stroke="#bcbcbc" stroke-width="0.7"/>
<path d="M49.79,372.684 V374.084" stroke="#bcbcbc" stroke-width="0.7"/>
<path d="M52.80,372.684 V374.084" stroke="#bcbcbc" stroke-width="0.7"/>
<path d="M55.13,372.684 V374.084" stroke="#bcbcbc" stroke-width="0.7"/>
<path d="M57.04,372.684 V374.084" stroke="#bcbcbc" stroke-width="0.7"/>
<path d="M58.65,372.684 V374.084" stroke="#bcbcbc" stroke-width="0.7"/>
<path d="M60.05,372.684 V374.084" stroke="#bcbcbc" stroke-width="0.7"/>
<path d="M61.28,372.684 V374.084" stroke="#bcbcbc" stroke-width="0.7"/>
<path d="M62.379999999999995,372.284 V374.684" stroke="#bcbcbc" stroke-width="0.8"/>
<text x="62.379999999999995" y="382.9" font-size="5.9" fill="#333" text-anchor="middle" font-weight="normal" dominant-baseline="central" stroke="#333" stroke-width="0.22" transform="translate(62.379999999999995 382.9) scale(1 1.22) translate(-62.379999999999995 -382.9)">0.01</text>
<path d="M69.63,372.684 V374.084" stroke="#bcbcbc" stroke-width="0.7"/>
<path d="M73.87,372.684 V374.084" stroke="#bcbcbc" stroke-width="0.7"/>
<path d="M76.88,372.684 V374.084" stroke="#bcbcbc" stroke-width="0.7"/>
<path d="M79.21,372.684 V374.084" stroke="#bcbcbc" stroke-width="0.7"/>
<path d="M81.12,372.684 V374.084" stroke="#bcbcbc" stroke-width="0.7"/>
<path d="M82.73,372.684 V374.084" stroke="#bcbcbc" stroke-width="0.7"/>
<path d="M84.13,372.684 V374.084" stroke="#bcbcbc" stroke-width="0.7"/>
<path d="M85.36,372.684 V374.084" stroke="#bcbcbc" stroke-width="0.7"/>
<path d="M86.46,372.284 V374.684" stroke="#bcbcbc" stroke-width="0.8"/>
<text x="86.46" y="382.9" font-size="5.9" fill="#333" text-anchor="middle" font-weight="normal" dominant-baseline="central" stroke="#333" stroke-width="0.22" transform="translate(86.46 382.9) scale(1 1.22) translate(-86.46 -382.9)">0.1</text>
<path d="M93.71,372.684 V374.084" stroke="#bcbcbc" stroke-width="0.7"/>
<path d="M97.95,372.684 V374.084" stroke="#bcbcbc" stroke-width="0.7"/>
<path d="M100.96,372.684 V374.084" stroke="#bcbcbc" stroke-width="0.7"/>
<path d="M103.29,372.684 V374.084" stroke="#bcbcbc" stroke-width="0.7"/>
<path d="M105.20,372.684 V374.084" stroke="#bcbcbc" stroke-width="0.7"/>
<path d="M106.81,372.684 V374.084" stroke="#bcbcbc" stroke-width="0.7"/>
<path d="M108.21,372.684 V374.084" stroke="#bcbcbc" stroke-width="0.7"/>
<path d="M109.44,372.684 V374.084" stroke="#bcbcbc" stroke-width="0.7"/>
<path d="M110.53999999999999,372.284 V374.684" stroke="#bcbcbc" stroke-width="0.8"/>
<text x="110.53999999999999" y="382.9" font-size="5.9" fill="#333" text-anchor="middle" font-weight="normal" dominant-baseline="central" stroke="#333" stroke-width="0.22" transform="translate(110.53999999999999 382.9) scale(1 1.22) translate(-110.53999999999999 -382.9)">1</text>
<path d="M117.79,372.684 V374.084" stroke="#bcbcbc" stroke-width="0.7"/>
<path d="M122.03,372.684 V374.084" stroke="#bcbcbc" stroke-width="0.7"/>
<path d="M125.04,372.684 V374.084" stroke="#bcbcbc" stroke-width="0.7"/>
<path d="M127.37,372.684 V374.084" stroke="#bcbcbc" stroke-width="0.7"/>
<path d="M129.28,372.684 V374.084" stroke="#bcbcbc" stroke-width="0.7"/>
<path d="M130.89,372.684 V374.084" stroke="#bcbcbc" stroke-width="0.7"/>
<path d="M132.29,372.684 V374.084" stroke="#bcbcbc" stroke-width="0.7"/>
<path d="M133.52,372.684 V374.084" stroke="#bcbcbc" stroke-width="0.7"/>
<path d="M134.62,372.284 V374.684" stroke="#bcbcbc" stroke-width="0.8"/>
<text x="134.62" y="382.9" font-size="5.9" fill="#333" text-anchor="middle" font-weight="normal" dominant-baseline="central" stroke="#333" stroke-width="0.22" transform="translate(134.62 382.9) scale(1 1.22) translate(-134.62 -382.9)">10</text>
<text x="51.1" y="395.6" font-size="7.12" fill="#222" text-anchor="start" font-weight="normal" dominant-baseline="central" stroke="#222" stroke-width="0.22">Concentration</text>
<text x="111.3" y="395.6" font-size="6.9" fill="#222" text-anchor="end" font-weight="normal" dominant-baseline="central" stroke="#222" stroke-width="0.22">(μM)</text>
<text x="10.25" y="300.6" font-size="7.11" fill="#222" text-anchor="middle" font-weight="normal" dominant-baseline="central" stroke="#222" stroke-width="0.22" transform="rotate(-90 10.25 300.6)">CCP Activity (%BL)</text>
<path d="M38.3,247.5 V255 M37.3,247.5 H39.3 M37.3,255 H39.3" stroke="#60d8d0" stroke-width="0.7" fill="none"/>
<path d="M101.8,337 V342 M100.8,337 H102.8 M100.8,342 H102.8" stroke="#60d8d0" stroke-width="0.7" fill="none"/>
<path d="M116.6,340 V345 M115.6,340 H117.6 M115.6,345 H117.6" stroke="#60d8d0" stroke-width="0.7" fill="none"/>
<path d="M53.3,249.2 V253.8 M52.099999999999994,249.2 H54.5 M52.099999999999994,253.8 H54.5" stroke="#333" stroke-width="0.8" fill="none"/>
<path d="M67.6,250.5 V255 M66.39999999999999,250.5 H68.8 M66.39999999999999,255 H68.8" stroke="#333" stroke-width="0.8" fill="none"/>
<path d="M38.30,252.20 L38.80,252.86 L39.30,253.53 L39.80,254.18 L40.30,254.81 L40.80,255.40 L41.30,255.96 L41.80,256.46 L42.30,256.89 L42.80,257.26 L43.30,257.53 L43.80,257.72 L44.30,257.80 L44.80,257.80 L45.30,257.78 L45.80,257.76 L46.30,257.73 L46.80,257.69 L47.30,257.65 L47.80,257.60 L48.30,257.55 L48.80,257.50 L49.30,257.45 L49.80,257.40 L50.30,257.35 L50.80,257.31 L51.30,257.27 L51.80,257.24 L52.30,257.22 L52.80,257.20 L53.30,257.20 L53.80,257.23 L54.30,257.28 L54.80,257.37 L55.30,257.48 L55.80,257.61 L56.30,257.75 L56.80,257.91 L57.30,258.08 L57.80,258.25 L58.30,258.43 L58.80,258.61 L59.30,258.81 L59.80,259.04 L60.30,259.29 L60.80,259.56 L61.30,259.85 L61.80,260.17 L62.30,260.50 L62.80,260.84 L63.30,261.21 L63.80,261.59 L64.30,261.98 L64.80,262.38 L65.30,262.79 L65.80,263.22 L66.30,263.65 L66.80,264.09 L67.30,264.54 L67.80,265.00 L68.30,265.47 L68.80,265.97 L69.30,266.50 L69.80,267.05 L70.30,267.64 L70.80,268.27 L71.30,268.94 L71.80,269.65 L72.30,270.42 L72.80,271.25 L73.30,272.13 L73.80,273.12 L74.30,274.35 L74.80,275.80 L75.30,277.43 L75.80,279.19 L76.30,281.03 L76.80,282.90 L77.30,284.77 L77.80,286.75 L78.30,288.86 L78.80,291.07 L79.30,293.33 L79.80,295.60 L80.30,297.88 L80.80,300.26 L81.30,302.71 L81.80,305.16 L82.30,307.55 L82.80,309.82 L83.30,311.90 L83.80,313.93 L84.30,315.96 L84.80,317.95 L85.30,319.86 L85.80,321.66 L86.30,323.32 L86.80,324.80 L87.30,326.06 L87.80,327.12 L88.30,328.09 L88.80,329.01 L89.30,329.87 L89.80,330.67 L90.30,331.42 L90.80,332.11 L91.30,332.74 L91.80,333.32 L92.30,333.85 L92.80,334.32 L93.30,334.75 L93.80,335.17 L94.30,335.56 L94.80,335.94 L95.30,336.30 L95.80,336.65 L96.30,336.98 L96.80,337.30 L97.30,337.60 L97.80,337.88 L98.30,338.15 L98.80,338.41 L99.30,338.64 L99.80,338.87 L100.30,339.07 L100.80,339.26 L101.30,339.44 L101.80,339.60 L102.30,339.75 L102.80,339.90 L103.30,340.05 L103.80,340.20 L104.30,340.35 L104.80,340.49 L105.30,340.63 L105.80,340.77 L106.30,340.91 L106.80,341.04 L107.30,341.17 L107.80,341.29 L108.30,341.41 L108.80,341.53 L109.30,341.64 L109.80,341.74 L110.30,341.84 L110.80,341.94 L111.30,342.02 L111.80,342.10 L112.30,342.18 L112.80,342.25 L113.30,342.31 L113.80,342.36 L114.30,342.40 L114.80,342.44 L115.30,342.47 L115.80,342.49 L116.30,342.50 L116.60,342.50" fill="none" stroke="#22dcd6" stroke-width="1.05" stroke-linejoin="round"/>
<path d="M38.30,252.20 L38.80,252.26 L39.30,252.32 L39.80,252.39 L40.30,252.44 L40.80,252.50 L41.30,252.56 L41.80,252.61 L42.30,252.67 L42.80,252.72 L43.30,252.77 L43.80,252.82 L44.30,252.86 L44.80,252.91 L45.30,252.95 L45.80,252.99 L46.30,253.03 L46.80,253.06 L47.30,253.10 L47.80,253.13 L48.30,253.16 L48.80,253.18 L49.30,253.21 L49.80,253.23 L50.30,253.25 L50.80,253.26 L51.30,253.28 L51.80,253.29 L52.30,253.29 L52.80,253.30 L53.30,253.30 L53.80,253.30 L54.30,253.29 L54.80,253.29 L55.30,253.28 L55.80,253.26 L56.30,253.25 L56.80,253.24 L57.30,253.22 L57.80,253.20 L58.30,253.18 L58.80,253.16 L59.30,253.14 L59.80,253.12 L60.30,253.09 L60.80,253.07 L61.30,253.05 L61.80,253.03 L62.30,253.01 L62.80,252.99 L63.30,252.97 L63.80,252.96 L64.30,252.94 L64.80,252.93 L65.30,252.92 L65.80,252.91 L66.30,252.90 L66.80,252.90 L67.30,252.90 L67.80,252.91 L68.30,252.94 L68.80,252.97 L69.30,253.02 L69.80,253.07 L70.30,253.13 L70.80,253.20 L71.30,253.28 L71.80,253.36 L72.30,253.45 L72.80,253.54 L73.30,253.64 L73.80,253.74 L74.30,253.85 L74.80,253.96 L75.30,254.07 L75.80,254.21 L76.30,254.38 L76.80,254.58 L77.30,254.80 L77.80,255.04 L78.30,255.30 L78.80,255.58 L79.30,255.87 L79.80,256.18 L80.30,256.50 L80.80,256.83 L81.30,257.16 L81.80,257.51 L82.30,257.91 L82.80,258.35 L83.30,258.82 L83.80,259.33 L84.30,259.86 L84.80,260.42 L85.30,261.00 L85.80,261.58 L86.30,262.18 L86.80,262.78 L87.30,263.38 L87.80,263.97 L88.30,264.55 L88.80,265.15 L89.30,265.76 L89.80,266.39 L90.30,267.02 L90.80,267.67 L91.30,268.32 L91.80,268.98 L92.30,269.64 L92.80,270.30 L93.30,270.97 L93.80,271.63 L94.30,272.29 L94.80,272.94 L95.30,273.59 L95.80,274.24 L96.30,274.89 L96.80,275.54 L97.30,276.19 L97.80,276.84 L98.30,277.49 L98.80,278.15 L99.30,278.80 L99.80,279.45 L100.30,280.11 L100.80,280.76 L101.30,281.42 L101.80,282.07 L102.30,282.73 L102.80,283.39 L103.30,284.04 L103.80,284.70 L104.30,285.36 L104.80,286.01 L105.30,286.67 L105.80,287.33 L106.30,287.99 L106.80,288.64 L107.30,289.30 L107.80,289.96 L108.30,290.61 L108.80,291.27 L109.30,291.93 L109.80,292.58 L110.30,293.24 L110.80,293.89 L111.30,294.55 L111.80,295.20 L112.30,295.86 L112.80,296.51 L113.30,297.17 L113.80,297.83 L114.30,298.48 L114.80,299.14 L115.30,299.79 L115.80,300.45 L116.30,301.10 L116.80,301.76 L117.30,302.42 L117.80,303.07 L118.30,303.73 L118.80,304.38 L119.30,305.04 L119.80,305.70 L120.30,306.35 L120.80,307.01 L121.30,307.66 L121.80,308.32 L122.30,308.98 L122.80,309.63 L123.30,310.29 L123.80,310.94 L124.30,311.60 L124.80,312.26 L125.30,312.91 L125.80,313.57 L125.90,313.70" fill="none" stroke="#1a1a1a" stroke-width="1.05" stroke-linejoin="round"/>
<circle cx="44.4" cy="258" r="1.2" fill="#22dcd6"/>
<circle cx="53.2" cy="257.4" r="1.2" fill="#22dcd6"/>
<circle cx="58.5" cy="258.7" r="1.2" fill="#22dcd6"/>
<circle cx="73.2" cy="272.6" r="1.2" fill="#22dcd6"/>
<circle cx="101.8" cy="339.6" r="1.2" fill="#22dcd6"/>
<circle cx="116.6" cy="342.5" r="1.2" fill="#22dcd6"/>
<path d="M112.8,239.8 H122.9" stroke="#111" stroke-width="1.0"/>
<text x="123" y="239.8" font-size="5.4" fill="#2a2a2a" text-anchor="start" font-weight="normal" dominant-baseline="central" stroke="#2a2a2a" stroke-width="0.22" transform="translate(123 239.8) scale(1 1.2) translate(-123 -239.8)">TT30</text>
<path d="M112.8,249.4 H122.9" stroke="#22dcd6" stroke-width="1.3"/>
<text x="123" y="249.4" font-size="5.6" fill="#2a2a2a" text-anchor="start" font-weight="normal" dominant-baseline="central" stroke="#2a2a2a" stroke-width="0.22" transform="translate(123 249.4) scale(1 1.2) translate(-123 -249.4)">Anti-C5 mAb</text>
<text x="181.4" y="220.2" font-size="11" fill="#111" text-anchor="middle" font-weight="bold" dominant-baseline="central">E</text>
<path d="M208.5,248.39999999999998 V378.6 H312.3" fill="none" stroke="#c0c0c0" stroke-width="0.9"/>
<path d="M206.5,248.39999999999998 H209.9" stroke="#c0c0c0" stroke-width="0.8"/>
<text x="203" y="248.39999999999998" font-size="5.9" fill="#333" text-anchor="end" font-weight="normal" dominant-baseline="central" stroke="#333" stroke-width="0.22" transform="translate(203 248.39999999999998) scale(1 1.22) translate(-203 -248.39999999999998)">120</text>
<path d="M206.5,267.0 H209.9" stroke="#c0c0c0" stroke-width="0.8"/>
<text x="203" y="267.0" font-size="5.9" fill="#333" text-anchor="end" font-weight="normal" dominant-baseline="central" stroke="#333" stroke-width="0.22" transform="translate(203 267.0) scale(1 1.22) translate(-203 -267.0)">100</text>
<path d="M206.5,285.6 H209.9" stroke="#c0c0c0" stroke-width="0.8"/>
<text x="203" y="285.6" font-size="5.9" fill="#333" text-anchor="end" font-weight="normal" dominant-baseline="central" stroke="#333" stroke-width="0.22" transform="translate(203 285.6) scale(1 1.22) translate(-203 -285.6)">80</text>
<path d="M206.5,304.2 H209.9" stroke="#c0c0c0" stroke-width="0.8"/>
<text x="203" y="304.2" font-size="5.9" fill="#333" text-anchor="end" font-weight="normal" dominant-baseline="central" stroke="#333" stroke-width="0.22" transform="translate(203 304.2) scale(1 1.22) translate(-203 -304.2)">60</text>
<path d="M206.5,322.8 H209.9" stroke="#c0c0c0" stroke-width="0.8"/>
<text x="203" y="322.8" font-size="5.9" fill="#333" text-anchor="end" font-weight="normal" dominant-baseline="central" stroke="#333" stroke-width="0.22" transform="translate(203 322.8) scale(1 1.22) translate(-203 -322.8)">40</text>
<path d="M206.5,341.4 H209.9" stroke="#c0c0c0" stroke-width="0.8"/>
<text x="203" y="341.4" font-size="5.9" fill="#333" text-anchor="end" font-weight="normal" dominant-baseline="central" stroke="#333" stroke-width="0.22" transform="translate(203 341.4) scale(1 1.22) translate(-203 -341.4)">20</text>
<path d="M206.5,360.0 H209.9" stroke="#c0c0c0" stroke-width="0.8"/>
<text x="203" y="360.0" font-size="5.9" fill="#333" text-anchor="end" font-weight="normal" dominant-baseline="central" stroke="#333" stroke-width="0.22" transform="translate(203 360.0) scale(1 1.22) translate(-203 -360.0)">0</text>
<path d="M206.5,378.6 H209.9" stroke="#c0c0c0" stroke-width="0.8"/>
<text x="203" y="378.6" font-size="5.9" fill="#333" text-anchor="end" font-weight="normal" dominant-baseline="central" stroke="#333" stroke-width="0.22" transform="translate(203 378.6) scale(1 1.22) translate(-203 -378.6)">-20</text>
<path d="M208.7,376.8 V379.20000000000005" stroke="#c0c0c0" stroke-width="0.8"/>
<text x="208.7" y="387.6" font-size="5.9" fill="#333" text-anchor="middle" font-weight="normal" dominant-baseline="central" stroke="#333" stroke-width="0.22" transform="translate(208.7 387.6) scale(1 1.22) translate(-208.7 -387.6)">0.01</text>
<path d="M219.09,377.20000000000005 V378.6" stroke="#c0c0c0" stroke-width="0.7"/>
<path d="M225.17,377.20000000000005 V378.6" stroke="#c0c0c0" stroke-width="0.7"/>
<path d="M229.49,377.20000000000005 V378.6" stroke="#c0c0c0" stroke-width="0.7"/>
<path d="M232.84,377.20000000000005 V378.6" stroke="#c0c0c0" stroke-width="0.7"/>
<path d="M235.57,377.20000000000005 V378.6" stroke="#c0c0c0" stroke-width="0.7"/>
<path d="M237.88,377.20000000000005 V378.6" stroke="#c0c0c0" stroke-width="0.7"/>
<path d="M239.88,377.20000000000005 V378.6" stroke="#c0c0c0" stroke-width="0.7"/>
<path d="M241.65,377.20000000000005 V378.6" stroke="#c0c0c0" stroke-width="0.7"/>
<path d="M243.23,376.8 V379.20000000000005" stroke="#c0c0c0" stroke-width="0.8"/>
<text x="243.23" y="387.6" font-size="5.9" fill="#333" text-anchor="middle" font-weight="normal" dominant-baseline="central" stroke="#333" stroke-width="0.22" transform="translate(243.23 387.6) scale(1 1.22) translate(-243.23 -387.6)">0.1</text>
<path d="M253.62,377.20000000000005 V378.6" stroke="#c0c0c0" stroke-width="0.7"/>
<path d="M259.70,377.20000000000005 V378.6" stroke="#c0c0c0" stroke-width="0.7"/>
<path d="M264.02,377.20000000000005 V378.6" stroke="#c0c0c0" stroke-width="0.7"/>
<path d="M267.37,377.20000000000005 V378.6" stroke="#c0c0c0" stroke-width="0.7"/>
<path d="M270.10,377.20000000000005 V378.6" stroke="#c0c0c0" stroke-width="0.7"/>
<path d="M272.41,377.20000000000005 V378.6" stroke="#c0c0c0" stroke-width="0.7"/>
<path d="M274.41,377.20000000000005 V378.6" stroke="#c0c0c0" stroke-width="0.7"/>
<path d="M276.18,377.20000000000005 V378.6" stroke="#c0c0c0" stroke-width="0.7"/>
<path d="M277.76,376.8 V379.20000000000005" stroke="#c0c0c0" stroke-width="0.8"/>
<text x="277.76" y="387.6" font-size="5.9" fill="#333" text-anchor="middle" font-weight="normal" dominant-baseline="central" stroke="#333" stroke-width="0.22" transform="translate(277.76 387.6) scale(1 1.22) translate(-277.76 -387.6)">1</text>
<path d="M288.15,377.20000000000005 V378.6" stroke="#c0c0c0" stroke-width="0.7"/>
<path d="M294.23,377.20000000000005 V378.6" stroke="#c0c0c0" stroke-width="0.7"/>
<path d="M298.55,377.20000000000005 V378.6" stroke="#c0c0c0" stroke-width="0.7"/>
<path d="M301.90,377.20000000000005 V378.6" stroke="#c0c0c0" stroke-width="0.7"/>
<path d="M304.63,377.20000000000005 V378.6" stroke="#c0c0c0" stroke-width="0.7"/>
<path d="M306.94,377.20000000000005 V378.6" stroke="#c0c0c0" stroke-width="0.7"/>
<path d="M308.94,377.20000000000005 V378.6" stroke="#c0c0c0" stroke-width="0.7"/>
<path d="M310.71,377.20000000000005 V378.6" stroke="#c0c0c0" stroke-width="0.7"/>
<path d="M312.28999999999996,376.8 V379.20000000000005" stroke="#c0c0c0" stroke-width="0.8"/>
<text x="312.28999999999996" y="387.6" font-size="5.9" fill="#333" text-anchor="middle" font-weight="normal" dominant-baseline="central" stroke="#333" stroke-width="0.22" transform="translate(312.28999999999996 387.6) scale(1 1.22) translate(-312.28999999999996 -387.6)">10</text>
<text x="232.7" y="395.6" font-size="7.12" fill="#222" text-anchor="start" font-weight="normal" dominant-baseline="central" stroke="#222" stroke-width="0.22">Concentration</text>
<text x="293.3" y="395.6" font-size="6.9" fill="#222" text-anchor="end" font-weight="normal" dominant-baseline="central" stroke="#222" stroke-width="0.22">(μM)</text>
<text x="186" y="313.6" font-size="7.1" fill="#222" text-anchor="middle" font-weight="normal" dominant-baseline="central" stroke="#222" stroke-width="0.22" transform="rotate(-90 186 313.6)">CAP Activity (%BL)</text>
<path d="M251.4,328.2 V342.2 M250.4,328.2 H252.4 M250.4,342.2 H252.4" stroke="#b890c4" stroke-width="0.7" fill="none"/>
<path d="M267.9,299.6 V336.2 M266.9,299.6 H268.9 M266.9,336.2 H268.9" stroke="#b890c4" stroke-width="0.7" fill="none"/>
<path d="M284,272.8 V296.2 M283.0,272.8 H285.0 M283.0,296.2 H285.0" stroke="#b890c4" stroke-width="0.7" fill="none"/>
<path d="M300.5,249.6 V302.3 M299.5,249.6 H301.5 M299.5,302.3 H301.5" stroke="#b890c4" stroke-width="0.7" fill="none"/>
<path d="M218.6,347.7 V358.3 M217.6,347.7 H219.6 M217.6,358.3 H219.6" stroke="#98dcdc" stroke-width="0.7" fill="none"/>
<path d="M234.9,350 V358 M233.9,350 H235.9 M233.9,358 H235.9" stroke="#98dcdc" stroke-width="0.7" fill="none"/>
<path d="M251.4,352 V359 M250.4,352 H252.4 M250.4,359 H252.4" stroke="#98dcdc" stroke-width="0.7" fill="none"/>
<path d="M267.9,352 V358 M266.9,352 H268.9 M266.9,358 H268.9" stroke="#98dcdc" stroke-width="0.7" fill="none"/>
<path d="M284,352 V359 M283.0,352 H285.0 M283.0,359 H285.0" stroke="#98dcdc" stroke-width="0.7" fill="none"/>
<path d="M300.5,352 V360 M299.5,352 H301.5 M299.5,360 H301.5" stroke="#98dcdc" stroke-width="0.7" fill="none"/>
<path d="M218.60,353.90 C221.32,354.05 229.43,354.50 234.90,354.80 C240.37,355.10 245.90,355.70 251.40,355.70 C256.90,355.70 262.47,354.88 267.90,354.80 C273.33,354.72 278.57,354.92 284.00,355.20 C289.43,355.48 297.75,356.28 300.50,356.50" fill="none" stroke="#22dcd6" stroke-width="1.05"/>
<path d="M218.6,351.95 L220.54999999999998,353.9 L218.6,355.84999999999997 L216.65,353.9 Z" fill="#22dcd6"/>
<path d="M234.9,352.85 L236.85,354.8 L234.9,356.75 L232.95000000000002,354.8 Z" fill="#22dcd6"/>
<path d="M251.4,353.75 L253.35,355.7 L251.4,357.65 L249.45000000000002,355.7 Z" fill="#22dcd6"/>
<path d="M267.9,352.85 L269.84999999999997,354.8 L267.9,356.75 L265.95,354.8 Z" fill="#22dcd6"/>
<path d="M284,353.25 L285.95,355.2 L284,357.15 L282.05,355.2 Z" fill="#22dcd6"/>
<path d="M300.5,354.55 L302.45,356.5 L300.5,358.45 L298.55,356.5 Z" fill="#22dcd6"/>
<path d="M218.60,358.00 C221.32,358.05 229.43,362.07 234.90,358.30 C240.37,354.53 245.90,342.13 251.40,335.40 C256.90,328.67 262.47,326.38 267.90,317.90 C273.33,309.42 278.57,291.47 284.00,284.50 C289.43,277.53 297.75,277.50 300.50,276.10" fill="none" stroke="#bf26bf" stroke-width="1.05"/>
<rect x="217.0" y="356.4" width="3.2" height="3.2" fill="#c024c0"/>
<rect x="233.3" y="356.7" width="3.2" height="3.2" fill="#c024c0"/>
<rect x="249.8" y="333.79999999999995" width="3.2" height="3.2" fill="#c024c0"/>
<rect x="266.29999999999995" y="316.29999999999995" width="3.2" height="3.2" fill="#c024c0"/>
<rect x="282.4" y="282.9" width="3.2" height="3.2" fill="#c024c0"/>
<rect x="298.9" y="274.5" width="3.2" height="3.2" fill="#c024c0"/>
<circle cx="259.3" cy="360" r="1.4" fill="#111"/>
<path d="M219,253.7 H228" stroke="#111" stroke-width="1.0"/>
<path d="M223.5,252.26999999999998 L224.93,253.7 L223.5,255.13 L222.07,253.7 Z" fill="#111"/>
<text x="229.3" y="253.7" font-size="5.5" fill="#2a2a2a" text-anchor="start" font-weight="normal" dominant-baseline="central" stroke="#2a2a2a" stroke-width="0.22" transform="translate(229.3 253.7) scale(1 1.2) translate(-229.3 -253.7)">TT30</text>
<path d="M219,263.5 H228" stroke="#bf26bf" stroke-width="1.0"/>
<rect x="222.0" y="262.0" width="3.0" height="3.0" fill="#bf26bf"/>
<text x="229.3" y="263.5" font-size="5.6" fill="#2a2a2a" text-anchor="start" font-weight="normal" dominant-baseline="central" stroke="#2a2a2a" stroke-width="0.22" transform="translate(229.3 263.5) scale(1 1.2) translate(-229.3 -263.5)">TT30+Anti-CR2 ab</text>
<path d="M219,273.3 H228" stroke="#22dcd6" stroke-width="1.0"/>
<path d="M223.5,271.48 L225.32,273.3 L223.5,275.12 L221.68,273.3 Z" fill="#22dcd6"/>
<text x="229.3" y="273.3" font-size="5.6" fill="#2a2a2a" text-anchor="start" font-weight="normal" dominant-baseline="central" stroke="#2a2a2a" stroke-width="0.22" transform="translate(229.3 273.3) scale(1 1.2) translate(-229.3 -273.3)">TT30+IgG ab</text>
</g></svg>
</body></html>
